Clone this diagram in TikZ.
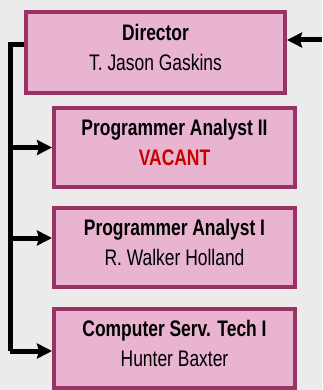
\documentclass[tikz,border=0pt]{standalone}
\usepackage{fontspec}
\setmainfont{Liberation Sans}[FakeStretch=0.775]
\usepackage{xcolor}
\usetikzlibrary{arrows.meta, positioning}
\definecolor{bggray}{RGB}{235,235,235}
\definecolor{boxfill}{RGB}{232,180,208}
\definecolor{boxline}{RGB}{153,51,102}
\definecolor{vacred}{RGB}{200,0,0}
\tikzstyle{position} = [rectangle, minimum width=259pt, minimum height=81pt, text centered, align=center, draw=boxline, fill=boxfill, line width=4pt, font=\fontsize{22.5}{30.5}\selectfont]
\tikzstyle{staff} = [position, minimum width=241pt, minimum height=79pt]
\tikzstyle{bus} = [line width=5pt]
\tikzstyle{arrow} = [line width=5pt, -{Stealth[length=15pt, width=15pt, inset=2pt]}]

\begin{document}
\begin{tikzpicture}
    \fill [bggray, use as bounding box] (0,0) rectangle (322pt,-390pt);

    % Boxes
    \node (director) [position] at (155.5pt,-52.5pt) {\textbf{Director}\\T. Jason Gaskins\\[-20pt]\mbox{}};
    \node (pa2) [staff, below=11pt of director, xshift=19pt] {\textbf{Programmer Analyst II}\\\textcolor{vacred}{\textbf{VACANT}}\\[-20pt]\mbox{}};
    \node (pa1) [staff, below=17pt of pa2] {\textbf{Programmer Analyst I}\\R. Walker Holland\\[-20pt]\mbox{}};
    \node (tech) [staff, below=18pt of pa1] {\textbf{Computer Serv. Tech I}\\Hunter Baxter\\[-20pt]\mbox{}};

    % Connectors
    \coordinate (incoming) at (322pt,-40pt);
    \coordinate (trunk) at (10pt,-351pt);
    \coordinate (pa1in) at ([yshift=9.5pt]pa1.west);
    \draw [arrow] (incoming) -- ([yshift=12.5pt]director.east);
    \draw [bus] ([yshift=7.5pt]director.west) -| (trunk);
    \draw [arrow] (trunk |- pa2.west) -- (pa2.west);
    \draw [arrow] (trunk |- pa1in) -- (pa1in);
    \draw [arrow] (trunk) -- (trunk -| tech.west);
\end{tikzpicture}
\end{document}
